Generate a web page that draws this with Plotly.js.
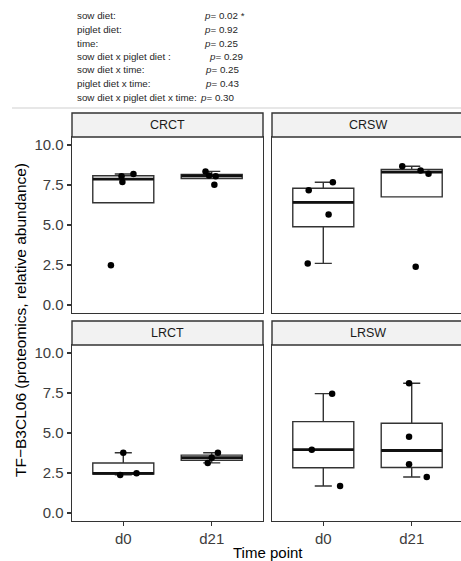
<!DOCTYPE html>
<html>
<head>
<meta charset="utf-8">
<script src="https://cdn.plot.ly/plotly-3.0.1.min.js"></script>
<style>
html,body{margin:0;padding:0;background:#fff;overflow:hidden;width:461px;height:561px;}
#chart{width:470px;height:561px;}
</style>
</head>
<body>
<div id="chart"></div>
<script>
// ---- data ----
const timePoints = ['d0', 'd21'];
const groups = ['CRCT', 'CRSW', 'LRCT', 'LRSW'];

// raw observations per group and time point
const CRCT_d0  = [2.49, 7.69, 8.04, 8.19];
const CRCT_d21 = [7.51, 8.04, 8.10, 8.35];
const CRSW_d0  = [2.60, 5.65, 7.17, 7.67];
const CRSW_d21 = [2.39, 8.21, 8.40, 8.67];
const LRCT_d0  = [2.38, 2.48, 3.77];
const LRCT_d21 = [3.13, 3.46, 3.77];
const LRSW_d0  = [1.69, 3.96, 7.46];
const LRSW_d21 = [2.25, 3.04, 4.77, 8.11];

// horizontal jitter of the points (category units), same order as values
const CRCT_d0_jit  = [-0.14, -0.01, -0.02, 0.115];
const CRCT_d21_jit = [0.03, 0.045, -0.03, -0.07];
const CRSW_d0_jit  = [-0.176, 0.06, -0.165, 0.108];
const CRSW_d21_jit = [0.045, 0.19, 0.10, -0.107];
const LRCT_d0_jit  = [-0.035, 0.15, 0.0];
const LRCT_d21_jit = [-0.045, 0.0, 0.07];
const LRSW_d0_jit  = [0.19, -0.13, 0.10];
const LRSW_d21_jit = [0.17, -0.03, -0.03, -0.03];

const yTickVals = [0, 2.5, 5, 7.5, 10];
const yTickText = ['0.0', '2.5', '5.0', '7.5', '10.0'];

const statLabels = ['sow diet:', 'piglet diet:', 'time:', 'sow diet x piglet diet :',
                    'sow diet x time:', 'piglet diet x time:', 'sow diet x piglet diet x time:'];
const statP = ['0.02 *', '0.92', '0.25', '0.29', '0.25', '0.43', '0.30'];

const yTitle = 'TF\u2212B3CL06 (proteomics, relative abundance)';
const xTitle = 'Time point';

// ---- helpers ----
const dataByGroup = {
  CRCT: [[CRCT_d0, CRCT_d0_jit], [CRCT_d21, CRCT_d21_jit]],
  CRSW: [[CRSW_d0, CRSW_d0_jit], [CRSW_d21, CRSW_d21_jit]],
  LRCT: [[LRCT_d0, LRCT_d0_jit], [LRCT_d21, LRCT_d21_jit]],
  LRSW: [[LRSW_d0, LRSW_d0_jit], [LRSW_d21, LRSW_d21_jit]]
};

function q7(s, p) {
  const n = s.length, h = (n - 1) * p, lo = Math.floor(h);
  const hi = Math.min(lo + 1, n - 1);
  return s[lo] + (h - lo) * (s[hi] - s[lo]);
}
function stats(v) {
  const s = v.slice().sort((a, b) => a - b);
  const q1 = q7(s, 0.25), med = q7(s, 0.5), q3 = q7(s, 0.75);
  const iqr = q3 - q1;
  const inside = s.filter(x => x >= q1 - 1.5 * iqr && x <= q3 + 1.5 * iqr);
  const lo = Math.min(inside[0], q1), hi = Math.max(inside[inside.length - 1], q3);
  return {q1, med, q3, lo, hi};
}

const W = 470, H = 561;
const PX = x => x / W;
const PY = y => 1 - y / H;
const BOXW = 0.69;
const LINE = '#333333';
const FONT = 'Liberation Sans, Arial, sans-serif';
const TICKCOL = '#3d3d3d';

const panels = {
  CRCT: {ax: '', x: [72, 263], y: [137, 313], strip: [113, 137]},
  CRSW: {ax: '2', x: [272, 463], y: [137, 313], strip: [113, 137]},
  LRCT: {ax: '3', x: [72, 263], y: [345, 521], strip: [321, 345]},
  LRSW: {ax: '4', x: [272, 463], y: [345, 521], strip: [321, 345]}
};

const traces = [];
const layout = {
  width: W, height: H,
  margin: {l: 0, r: 0, t: 0, b: 0},
  paper_bgcolor: '#ffffff', plot_bgcolor: '#ffffff',
  showlegend: false,
  font: {family: FONT, color: TICKCOL},
  shapes: [], annotations: []
};

groups.forEach(g => {
  const p = panels[g];
  const xa = 'x' + p.ax, ya = 'y' + p.ax;
  const st = dataByGroup[g].map(d => stats(d[0]));
  traces.push({
    type: 'box', xaxis: xa, yaxis: ya,
    x: timePoints.map((t, i) => i),
    q1: st.map(s => s.q1), median: st.map(s => s.med), q3: st.map(s => s.q3),
    lowerfence: st.map(s => s.lo), upperfence: st.map(s => s.hi),
    width: BOXW, whiskerwidth: 0.28, boxpoints: false,
    fillcolor: '#ffffff', line: {color: LINE, width: 1.4},
    hoverinfo: 'skip'
  });
  // thicker median lines (ggplot style)
  st.forEach((s, i) => {
    traces.push({
      type: 'scatter', mode: 'lines', xaxis: xa, yaxis: ya,
      x: [i - BOXW / 2, i + BOXW / 2], y: [s.med, s.med],
      line: {color: '#111111', width: 2.8}, hoverinfo: 'skip'
    });
  });
  // jittered points
  const px = [], py = [];
  dataByGroup[g].forEach((d, i) => {
    d[0].forEach((v, k) => { px.push(i + d[1][k]); py.push(v); });
  });
  traces.push({
    type: 'scatter', mode: 'markers', xaxis: xa, yaxis: ya,
    x: px, y: py, marker: {color: '#000000', size: 6.5}, hoverinfo: 'skip'
  });

  const isBottom = (g === 'LRCT' || g === 'LRSW');
  const isLeft = (g === 'CRCT' || g === 'LRCT');
  layout['xaxis' + p.ax] = {
    domain: [PX(p.x[0]), PX(p.x[1])], anchor: ya,
    range: [-0.58, 1.58], zeroline: false, showgrid: false,
    showline: true, mirror: true, linecolor: LINE, linewidth: 1.4,
    tickvals: isBottom ? [0, 1] : [], ticktext: isBottom ? timePoints : [],
    ticks: isBottom ? 'outside' : '', ticklen: 4, tickcolor: LINE, tickwidth: 1.1,
    showticklabels: isBottom,
    tickfont: {size: 15, color: TICKCOL, family: FONT}
  };
  layout['yaxis' + p.ax] = {
    domain: [PY(p.y[1]), PY(p.y[0])], anchor: xa,
    range: [-0.5, 10.5], zeroline: false, showgrid: false,
    showline: true, mirror: true, linecolor: LINE, linewidth: 1.4,
    tickvals: isLeft ? yTickVals : [], ticktext: isLeft ? yTickText : [],
    ticks: isLeft ? 'outside' : '', ticklen: 4, tickcolor: LINE, tickwidth: 1.1,
    showticklabels: isLeft,
    tickfont: {size: 15, color: TICKCOL, family: FONT}
  };
  // strip
  layout.shapes.push({
    type: 'rect', xref: 'paper', yref: 'paper',
    x0: PX(p.x[0]), x1: PX(p.x[1]), y0: PY(p.strip[1]), y1: PY(p.strip[0]),
    fillcolor: '#f2f2f2', line: {color: LINE, width: 1.4}
  });
  layout.annotations.push({
    xref: 'paper', yref: 'paper', x: PX((p.x[0] + p.x[1]) / 2), y: PY((p.strip[0] + p.strip[1]) / 2),
    text: g, showarrow: false, xanchor: 'center', yanchor: 'middle',
    font: {size: 12.5, color: '#1a1a1a', family: FONT}
  });
});

// separator line under the statistics
layout.shapes.push({
  type: 'line', xref: 'paper', yref: 'paper',
  x0: PX(12), x1: 1, y0: PY(108), y1: PY(108),
  line: {color: '#cfcfcf', width: 1.2}
});

// statistics text
const lineY = [15.7, 29.3, 43.3, 56.7, 70, 83.3, 97.7];
const pX = [201.7, 201.7, 201.7, 206.7, 203, 203, 198];
statLabels.forEach((t, i) => {
  layout.annotations.push({
    xref: 'paper', yref: 'paper', x: PX(75), y: PY(lineY[i]),
    text: t, showarrow: false, xanchor: 'left', yanchor: 'middle',
    font: {size: 9.8, color: '#262626', family: FONT}
  });
  layout.annotations.push({
    xref: 'paper', yref: 'paper', x: PX(pX[i]), y: PY(lineY[i]),
    text: '<i>p</i>= ' + statP[i], showarrow: false, xanchor: 'left', yanchor: 'middle',
    font: {size: 9.8, color: '#262626', family: FONT}
  });
});

// axis titles
layout.annotations.push({
  xref: 'paper', yref: 'paper', x: PX(20), y: PY(320),
  text: yTitle, showarrow: false, textangle: -90, xanchor: 'center', yanchor: 'middle',
  font: {size: 15.5, color: '#000000', family: FONT}
});
layout.annotations.push({
  xref: 'paper', yref: 'paper', x: PX(268), y: PY(552),
  text: xTitle, showarrow: false, xanchor: 'center', yanchor: 'middle',
  font: {size: 15, color: '#000000', family: FONT}
});

Plotly.newPlot('chart', traces, layout, {staticPlot: true, displayModeBar: false});
</script>
</body>
</html>
